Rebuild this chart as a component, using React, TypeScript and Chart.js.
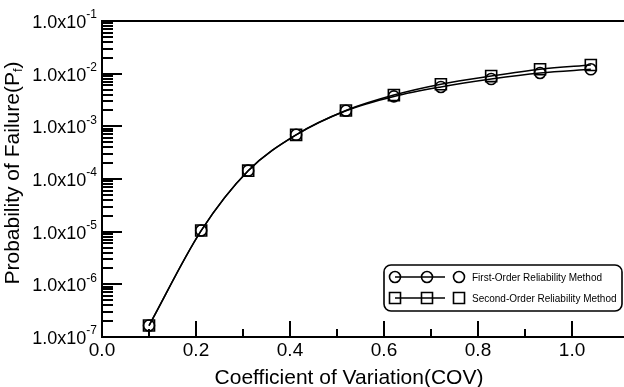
import { useEffect, useRef } from 'react';
import { Chart, registerables } from 'chart.js';

Chart.register(...registerables);

// ---- data ----
const cov = [0.1, 0.211, 0.311, 0.413, 0.519, 0.621, 0.721, 0.828, 0.932, 1.04];
const formPf = [1.65e-7, 1.05e-5, 1.44e-4, 6.9e-4, 1.98e-3, 3.7e-3, 5.6e-3, 7.9e-3, 1.03e-2, 1.21e-2];
const sormPf = [1.65e-7, 1.05e-5, 1.44e-4, 6.9e-4, 2.0e-3, 3.92e-3, 6.3e-3, 9.0e-3, 1.21e-2, 1.46e-2];
const seriesNames = ['First-Order Reliability Method', 'Second-Order Reliability Method'];

const xTickValues = [0, 0.1, 0.2, 0.3, 0.4, 0.5, 0.6, 0.7, 0.8, 0.9, 1.0];
const xLabelValues = [0, 0.2, 0.4, 0.6, 0.8, 1.0];
const xLabels = ['0.0', '0.2', '0.4', '0.6', '0.8', '1.0'];
const yDecades = [-7, -6, -5, -4, -3, -2, -1];
const yMinorMultipliers = [2, 3, 4, 5, 6, 7, 8, 9];

const xTitle = 'Coefficient of Variation(COV)';
const yTitleMain = 'Probability of Failure(P';
const yTitleSub = 'f';
const yTitleEnd = ')';

const FONT = '"Liberation Sans", Arial, Helvetica, sans-serif';

function drawMarker(ctx: CanvasRenderingContext2D, kind: string, x: number, y: number) {
  ctx.save();
  ctx.strokeStyle = '#000';
  ctx.lineWidth = 1.6;
  ctx.beginPath();
  if (kind === 'circle') {
    ctx.arc(x, y, 5.5, 0, Math.PI * 2);
  } else {
    ctx.rect(x - 5.5, y - 5.5, 11, 11);
  }
  ctx.stroke();
  ctx.restore();
}

const decorPlugin = {
  id: 'decor',
  afterDraw(chart: any) {
    const ctx: CanvasRenderingContext2D = chart.ctx;
    const xs = chart.scales.x;
    const ys = chart.scales.y;
    const area = chart.chartArea;
    ctx.save();
    ctx.strokeStyle = '#000';
    ctx.fillStyle = '#000';

    // top frame line
    ctx.lineWidth = 2;
    ctx.beginPath();
    ctx.moveTo(area.left, area.top);
    ctx.lineTo(area.right, area.top);
    ctx.stroke();

    // y ticks (inside)
    ctx.lineWidth = 2;
    yDecades.forEach((e) => {
      const base = Math.pow(10, e);
      const yp = Math.round(ys.getPixelForValue(base));
      ctx.beginPath();
      ctx.moveTo(area.left, yp);
      ctx.lineTo(area.left + 20, yp);
      ctx.stroke();
      if (e < yDecades[yDecades.length - 1]) {
        yMinorMultipliers.forEach((m) => {
          const ym = Math.round(ys.getPixelForValue(m * base));
          ctx.beginPath();
          ctx.moveTo(area.left, ym);
          ctx.lineTo(area.left + 11, ym);
          ctx.stroke();
        });
      }
    });

    // x ticks (inside)
    xTickValues.forEach((v, i) => {
      const xp = Math.round(xs.getPixelForValue(v));
      const len = i % 2 === 0 ? 16 : 8;
      ctx.beginPath();
      ctx.moveTo(xp, area.bottom);
      ctx.lineTo(xp, area.bottom - len);
      ctx.stroke();
    });

    // y labels 1.0x10^e
    ctx.textBaseline = 'middle';
    ctx.textAlign = 'left';
    yDecades.forEach((e) => {
      const yp = ys.getPixelForValue(Math.pow(10, e));
      const main = '1.0x10';
      const sup = String(e);
      ctx.font = `12px ${FONT}`;
      const ew = ctx.measureText(sup).width;
      ctx.font = `18px ${FONT}`;
      const mw = ctx.measureText(main).width;
      const right = 97;
      ctx.fillText(main, right - ew - mw, yp + 2);
      ctx.font = `12px ${FONT}`;
      ctx.fillText(sup, right - ew, yp - 6);
    });

    // x labels
    ctx.font = `19px ${FONT}`;
    ctx.textAlign = 'center';
    xLabelValues.forEach((v, i) => {
      const xp = xs.getPixelForValue(v);
      ctx.fillText(xLabels[i], xp, 351);
    });

    // x title
    ctx.font = `21px ${FONT}`;
    ctx.fillText(xTitle, 349, 378);

    // y title (rotated)
    ctx.save();
    ctx.translate(13, 173);
    ctx.rotate(-Math.PI / 2);
    ctx.font = `21px ${FONT}`;
    const w1 = ctx.measureText(yTitleMain).width;
    ctx.font = `13px ${FONT}`;
    const w2 = ctx.measureText(yTitleSub).width;
    ctx.font = `21px ${FONT}`;
    const w3 = ctx.measureText(yTitleEnd).width;
    const total = w1 + w2 + w3;
    let cx = -total / 2;
    ctx.textAlign = 'left';
    ctx.fillText(yTitleMain, cx, 0);
    cx += w1;
    ctx.font = `13px ${FONT}`;
    ctx.fillText(yTitleSub, cx, 5);
    cx += w2;
    ctx.font = `21px ${FONT}`;
    ctx.fillText(yTitleEnd, cx, 0);
    ctx.restore();

    // legend
    const lx = 384, ly = 265, lw = 238, lh = 46, r = 7;
    ctx.lineWidth = 1.6;
    ctx.fillStyle = '#fff';
    ctx.beginPath();
    ctx.moveTo(lx + r, ly);
    ctx.lineTo(lx + lw - r, ly);
    ctx.arcTo(lx + lw, ly, lx + lw, ly + r, r);
    ctx.lineTo(lx + lw, ly + lh - r);
    ctx.arcTo(lx + lw, ly + lh, lx + lw - r, ly + lh, r);
    ctx.lineTo(lx + r, ly + lh);
    ctx.arcTo(lx, ly + lh, lx, ly + lh - r, r);
    ctx.lineTo(lx, ly + r);
    ctx.arcTo(lx, ly, lx + r, ly, r);
    ctx.closePath();
    ctx.fill();
    ctx.stroke();

    const kinds = ['circle', 'rect'];
    const rowsY = [277, 298];
    ctx.fillStyle = '#000';
    ctx.font = `10px ${FONT}`;
    ctx.textAlign = 'left';
    ctx.textBaseline = 'middle';
    seriesNames.forEach((name, i) => {
      const yy = rowsY[i];
      ctx.lineWidth = 1.5;
      ctx.beginPath();
      ctx.moveTo(395, yy);
      ctx.lineTo(445, yy);
      ctx.stroke();
      drawMarker(ctx, kinds[i], 395, yy);
      drawMarker(ctx, kinds[i], 427, yy);
      drawMarker(ctx, kinds[i], 459, yy);
      ctx.fillText(name, 472, yy + 1);
    });

    ctx.restore();
  },
};

export default function App() {
  const ref = useRef<HTMLCanvasElement>(null);

  useEffect(() => {
    document.body.style.margin = '0';
    const canvas = ref.current;
    if (!canvas) return;
    const toPoints = (ys: number[]) => cov.map((x, i) => ({ x, y: ys[i] }));
    const chart = new Chart(canvas, {
      type: 'line',
      data: {
        datasets: [
          {
            label: seriesNames[0],
            data: toPoints(formPf),
            borderColor: '#000',
            borderWidth: 1.5,
            pointStyle: 'circle',
            pointRadius: 5.5,
            pointBorderWidth: 1.6,
            pointBorderColor: '#000',
            pointBackgroundColor: 'rgba(0,0,0,0)',
            cubicInterpolationMode: 'monotone',
            fill: false,
          },
          {
            label: seriesNames[1],
            data: toPoints(sormPf),
            borderColor: '#000',
            borderWidth: 1.5,
            pointStyle: 'rect',
            pointRadius: 7.8,
            pointBorderWidth: 1.6,
            pointBorderColor: '#000',
            pointBackgroundColor: 'rgba(0,0,0,0)',
            cubicInterpolationMode: 'monotone',
            fill: false,
          },
        ],
      },
      options: {
        responsive: false,
        animation: false,
        events: [],
        layout: { autoPadding: false, padding: { top: 21, left: 0, right: 0, bottom: 0 } },
        plugins: { legend: { display: false }, tooltip: { enabled: false }, title: { display: false } },
        scales: {
          x: {
            type: 'linear',
            min: 0,
            max: 1.1106,
            grid: { display: false },
            border: { display: true, color: '#000', width: 2 },
            ticks: { display: false },
            afterFit: (s: any) => {
              s.height = 50;
            },
          },
          y: {
            type: 'logarithmic',
            min: 1e-7,
            max: 1e-1,
            grid: { display: false },
            border: { display: true, color: '#000', width: 2 },
            ticks: { display: false },
            afterFit: (s: any) => {
              s.width = 102;
            },
          },
        },
      },
      plugins: [decorPlugin],
    });
    return () => chart.destroy();
  }, []);

  return <canvas ref={ref} width={624} height={387} style={{ display: 'block' }} />;
}
